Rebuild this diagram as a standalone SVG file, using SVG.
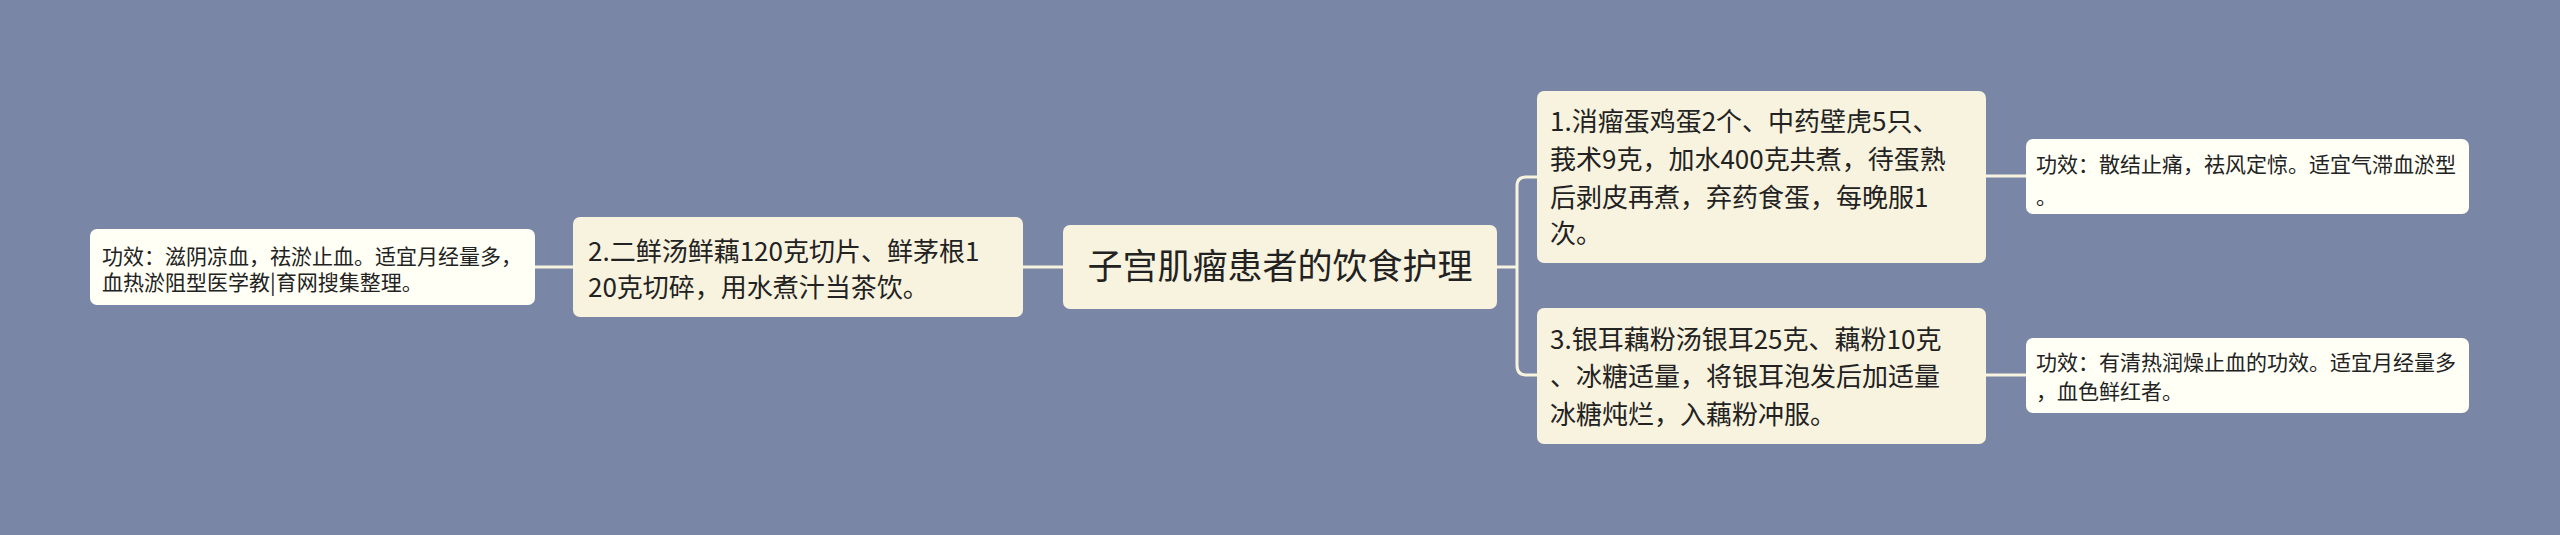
<svg xmlns="http://www.w3.org/2000/svg" width="2560" height="535" viewBox="0 0 2560 535">
<style>
.main{fill:#f8f3de;}
.leaf{fill:#fffff6;}
.t{font-family:"Microsoft YaHei","Noto Sans CJK SC",sans-serif;fill:#222;}
.t0{font-size:35px;}
.t1{font-size:26px;}
.t2{font-size:21px;}
.c{fill:none;stroke:#f8f3de;stroke-width:3;}
</style>
<rect width="2560" height="535" fill="#7986a5"/>
<g id="connectors">
<path class="c" d="M1063 267 H1023"/>
<path class="c" d="M573 267 H535"/>
<path class="c" d="M1497 267 H1517"/>
<path class="c" d="M1537 177 H1526 Q1517 177 1517 186 V365 Q1517 375 1526 375 H1537"/>
<path class="c" d="M1986 176 H2026"/>
<path class="c" d="M1986 375 H2026"/>
</g>
<g id="root">
<rect class="main" x="1063" y="225" width="434" height="84" rx="7"/>
<text class="t t0" x="1280" y="279" text-anchor="middle">子宫肌瘤患者的饮食护理</text>
</g>
<g id="n2">
<rect class="main" x="573" y="217" width="450" height="100" rx="7"/>
<text class="t t1"><tspan x="588" y="261">2.二鲜汤鲜藕120克切片、鲜茅根1</tspan><tspan x="588" y="297">20克切碎，用水煮汁当茶饮。</tspan></text>
</g>
<g id="n2e">
<rect class="leaf" x="90" y="229" width="445" height="76" rx="7"/>
<text class="t t2"><tspan x="102" y="264">功效：滋阴凉血，祛淤止血。适宜月经量多，</tspan><tspan x="102" y="290">血热淤阻型医学教|育网搜集整理。</tspan></text>
</g>
<g id="n1">
<rect class="main" x="1537" y="91" width="449" height="172" rx="7"/>
<text class="t t1"><tspan x="1550" y="131">1.消瘤蛋鸡蛋2个、中药壁虎5只、</tspan><tspan x="1550" y="169">莪术9克，加水400克共煮，待蛋熟</tspan><tspan x="1550" y="207">后剥皮再煮，弃药食蛋，每晚服1</tspan><tspan x="1550" y="243">次。</tspan></text>
</g>
<g id="n1e">
<rect class="leaf" x="2026" y="139" width="443" height="75" rx="7"/>
<text class="t t2"><tspan x="2036" y="172">功效：散结止痛，祛风定惊。适宜气滞血淤型</tspan><tspan x="2036" y="204">。</tspan></text>
</g>
<g id="n3">
<rect class="main" x="1537" y="308" width="449" height="136" rx="7"/>
<text class="t t1"><tspan x="1550" y="349">3.银耳藕粉汤银耳25克、藕粉10克</tspan><tspan x="1550" y="386">、冰糖适量，将银耳泡发后加适量</tspan><tspan x="1550" y="424">冰糖炖烂，入藕粉冲服。</tspan></text>
</g>
<g id="n3e">
<rect class="leaf" x="2026" y="338" width="443" height="75" rx="7"/>
<text class="t t2"><tspan x="2036" y="370">功效：有清热润燥止血的功效。适宜月经量多</tspan><tspan x="2036" y="399">，血色鲜红者。</tspan></text>
</g>
</svg>
